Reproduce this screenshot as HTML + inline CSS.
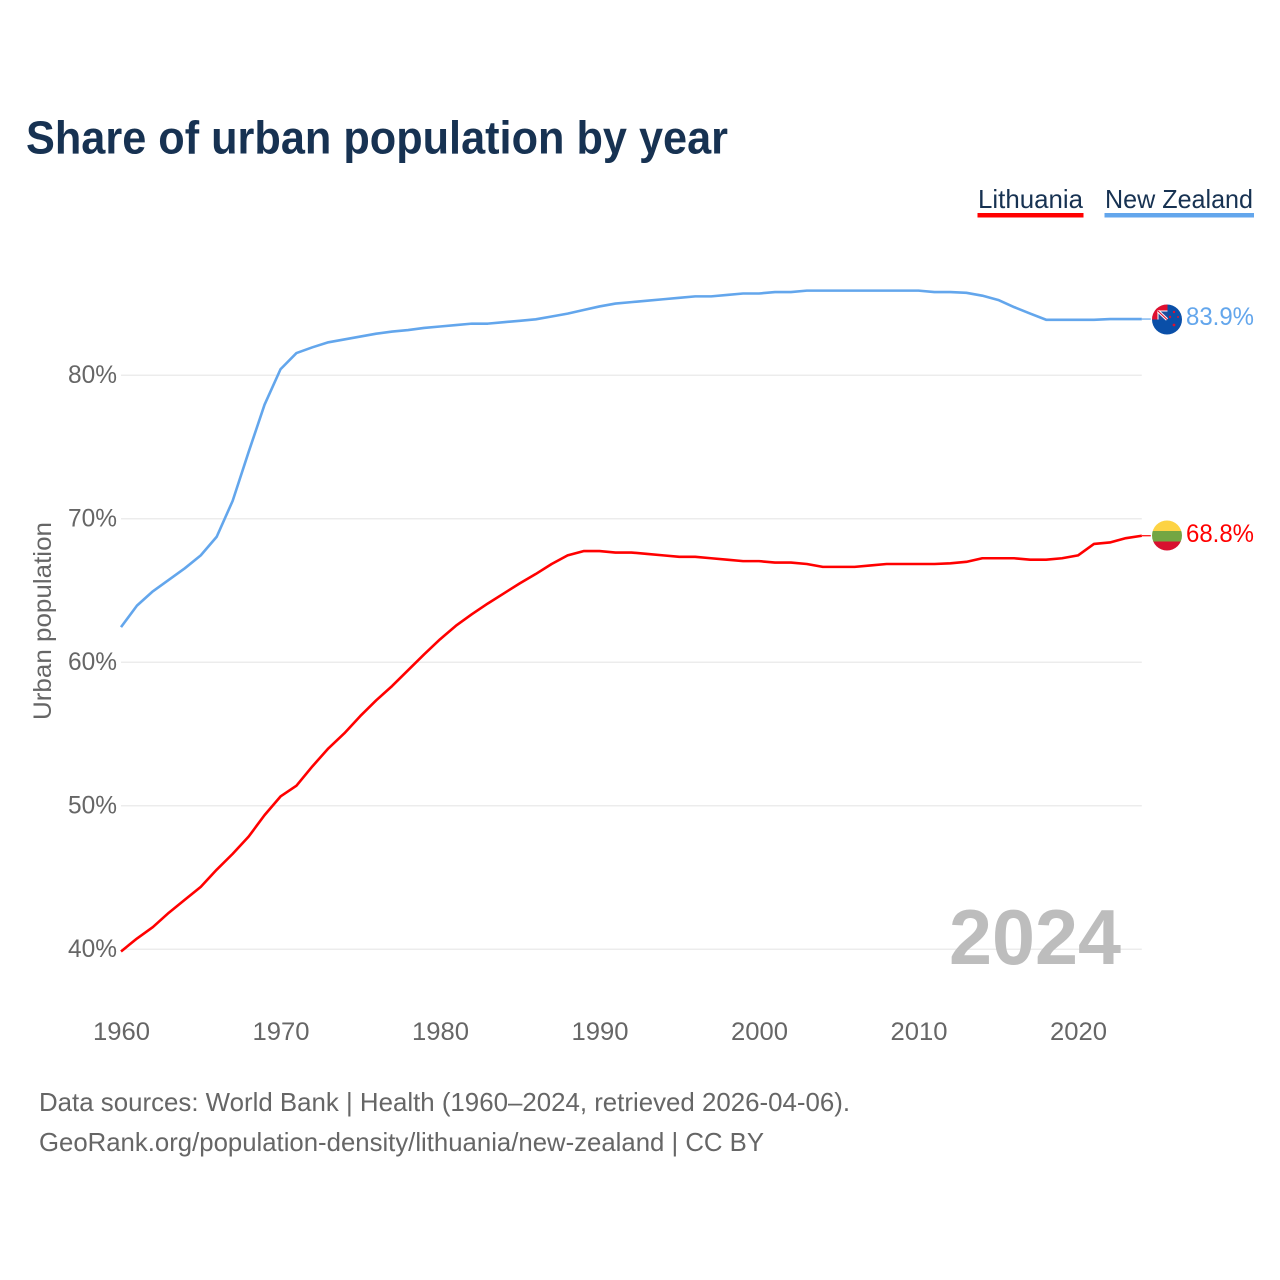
<!DOCTYPE html>
<html lang="en">
<head>
<meta charset="utf-8">
<title>Share of urban population by year</title>
<style>
html,body{margin:0;padding:0;background:#fff;}
svg{display:block;font-family:"Liberation Sans",sans-serif;}
</style>
</head>
<body>
<svg id="chart" width="1280" height="1280" viewBox="0 0 1280 1280" xmlns="http://www.w3.org/2000/svg">
  <defs>
    <clipPath id="clip-nz"><circle cx="1167" cy="319.5" r="15"/></clipPath>
    <clipPath id="clip-lt"><circle cx="1167" cy="535.5" r="15"/></clipPath>
  </defs>
  <rect x="0" y="0" width="1280" height="1280" fill="#fff"/>
  <text x="26" y="153.5" font-size="46" font-weight="700" fill="#173252" textLength="702" lengthAdjust="spacingAndGlyphs">Share of urban population by year</text>

  <g>
    <g>
      <text x="978" y="208" font-size="26" fill="#173252" textLength="105" lengthAdjust="spacingAndGlyphs">Lithuania</text>
      <rect x="977.5" y="213" width="106" height="4.5" fill="#ff0000"/>
    </g>
    <g>
      <text x="1105" y="208" font-size="26" fill="#173252" textLength="148" lengthAdjust="spacingAndGlyphs">New Zealand</text>
      <rect x="1104.5" y="213" width="149.5" height="4.5" fill="#63a6ec"/>
    </g>
  </g>

  <g id="grid"></g>
  <g id="y-ticks"></g>
  <g id="x-ticks"></g>
  <text transform="translate(51,720) rotate(-90)" font-size="25" fill="#666" textLength="198" lengthAdjust="spacingAndGlyphs">Urban population</text>

  <text x="949" y="964" font-size="78" font-weight="700" fill="#bdbdbd" textLength="172" lengthAdjust="spacingAndGlyphs">2024</text>

  <polyline id="line-nz" fill="none" stroke="#63a6ec" stroke-width="2.6" stroke-linejoin="round"/>
  <polyline id="line-lt" fill="none" stroke="#ff0000" stroke-width="2.6" stroke-linejoin="round"/>
  <line id="lead-nz" stroke="#63a6ec" stroke-width="1.2"/>
  <line id="lead-lt" stroke="#ff0000" stroke-width="1.2"/>

  <g clip-path="url(#clip-nz)">
    <rect x="1152" y="304" width="30" height="31" fill="#0a4fa8"/>
    <rect x="1152" y="304" width="15.5" height="15.5" fill="#fff"/>
    <rect x="1152" y="304" width="15.5" height="6.5" fill="#e0102f"/>
    <rect x="1152" y="304" width="5.5" height="15.5" fill="#e0102f"/>
    <rect x="1158.5" y="311.5" width="9" height="8" fill="#1f4e9e"/>
    <path d="M1158 311 L1167 319.5" stroke="#fff" stroke-width="3"/>
    <path d="M1158 311 L1167 319.5" stroke="#e0102f" stroke-width="1.1"/>
    <circle cx="1174" cy="312" r="1.2" fill="#e0102f"/>
    <circle cx="1170" cy="317" r="1.2" fill="#e0102f"/>
    <circle cx="1178" cy="317" r="1" fill="#e0102f"/>
    <circle cx="1174" cy="325" r="1.4" fill="#e0102f"/>
  </g>
  <g clip-path="url(#clip-lt)">
    <rect x="1152" y="520" width="30" height="11" fill="#fdd344"/>
    <rect x="1152" y="531" width="30" height="11" fill="#73a643"/>
    <rect x="1152" y="541.5" width="30" height="10" fill="#d8102f"/>
  </g>

  <text id="value-nz" x="1186" y="325" font-size="25" fill="#63a6ec" textLength="68" lengthAdjust="spacingAndGlyphs"></text>
  <text id="value-lt" x="1186" y="542" font-size="25" fill="#ff0000" textLength="68" lengthAdjust="spacingAndGlyphs"></text>

  <text x="39" y="1111" font-size="26" fill="#666" textLength="811" lengthAdjust="spacingAndGlyphs">Data sources: World Bank | Health (1960–2024, retrieved 2026-04-06).</text>
  <text x="39" y="1151" font-size="26" fill="#666" textLength="725" lengthAdjust="spacingAndGlyphs">GeoRank.org/population-density/lithuania/new-zealand | CC BY</text>
</svg>
<script>
var startYear = 1960;
var yTickValues = [40, 50, 60, 70, 80];
var xTickValues = [1960, 1970, 1980, 1990, 2000, 2010, 2020];
var newZealand = [62.45,63.95,64.95,65.75,66.55,67.45,68.75,71.25,74.65,77.95,80.42,81.55,81.95,82.3,82.5,82.7,82.9,83.05,83.15,83.3,83.4,83.5,83.6,83.6,83.7,83.8,83.9,84.1,84.3,84.55,84.8,85.0,85.1,85.2,85.3,85.4,85.5,85.5,85.6,85.7,85.7,85.8,85.8,85.9,85.9,85.9,85.9,85.9,85.9,85.9,85.9,85.8,85.8,85.75,85.55,85.25,84.75,84.3,83.87,83.87,83.87,83.87,83.92,83.92,83.92];
var lithuania = [39.85,40.75,41.55,42.55,43.45,44.35,45.55,46.65,47.85,49.35,50.65,51.4,52.75,54.0,55.05,56.25,57.35,58.35,59.45,60.55,61.6,62.55,63.35,64.1,64.8,65.5,66.15,66.85,67.45,67.75,67.75,67.65,67.65,67.55,67.45,67.35,67.35,67.25,67.15,67.05,67.05,66.95,66.95,66.85,66.65,66.65,66.65,66.75,66.85,66.85,66.85,66.85,66.9,67.0,67.25,67.25,67.25,67.15,67.15,67.25,67.45,68.25,68.35,68.65,68.82];
var valueLabelNz = "83.9%";
var valueLabelLt = "68.8%";

function xScale(year) { return 121 + (year - 1960) * 15.95; }
function yScale(v) { return 949.3 - (v - 40) * 14.35; }

var NS = "http://www.w3.org/2000/svg";
var grid = document.getElementById("grid");
var yTicks = document.getElementById("y-ticks");
var xTicks = document.getElementById("x-ticks");

yTickValues.forEach(function (v) {
  var gl = document.createElementNS(NS, "line");
  
  
  gl.setAttribute("x1", xScale(1960));
  gl.setAttribute("x2", xScale(2024));
  gl.setAttribute("y1", yScale(v));
  gl.setAttribute("y2", yScale(v));
  gl.setAttribute("stroke", "#ececec");
  gl.setAttribute("stroke-width", "1.5");
  grid.appendChild(gl);

  var t = document.createElementNS(NS, "text");
  
  
  t.setAttribute("x", 68);
  t.setAttribute("y", yScale(v) + 7.5);
  t.setAttribute("font-size", "25");
  t.setAttribute("fill", "#666");
  t.setAttribute("textLength", "49");
  t.setAttribute("lengthAdjust", "spacingAndGlyphs");
  t.textContent = v + "%";
  yTicks.appendChild(t);
});

xTickValues.forEach(function (yr) {
  var t = document.createElementNS(NS, "text");
  
  
  t.setAttribute("x", xScale(yr) - 28);
  t.setAttribute("y", 1040);
  t.setAttribute("font-size", "25");
  t.setAttribute("fill", "#666");
  t.setAttribute("textLength", "57");
  t.setAttribute("lengthAdjust", "spacingAndGlyphs");
  t.textContent = yr;
  xTicks.appendChild(t);
});

function pointsFor(series) {
  return series.map(function (v, i) {
    return xScale(startYear + i).toFixed(2) + "," + yScale(v).toFixed(2);
  }).join(" ");
}
document.getElementById("line-nz").setAttribute("points", pointsFor(newZealand));
document.getElementById("line-lt").setAttribute("points", pointsFor(lithuania));

function setLead(id, series) {
  var el = document.getElementById(id);
  var y = yScale(series[series.length - 1]);
  el.setAttribute("x1", xScale(2024));
  el.setAttribute("x2", xScale(2024) + 9);
  el.setAttribute("y1", y);
  el.setAttribute("y2", y);
}
setLead("lead-nz", newZealand);
setLead("lead-lt", lithuania);

document.getElementById("value-nz").textContent = valueLabelNz;
document.getElementById("value-lt").textContent = valueLabelLt;
</script>
</body>
</html>
